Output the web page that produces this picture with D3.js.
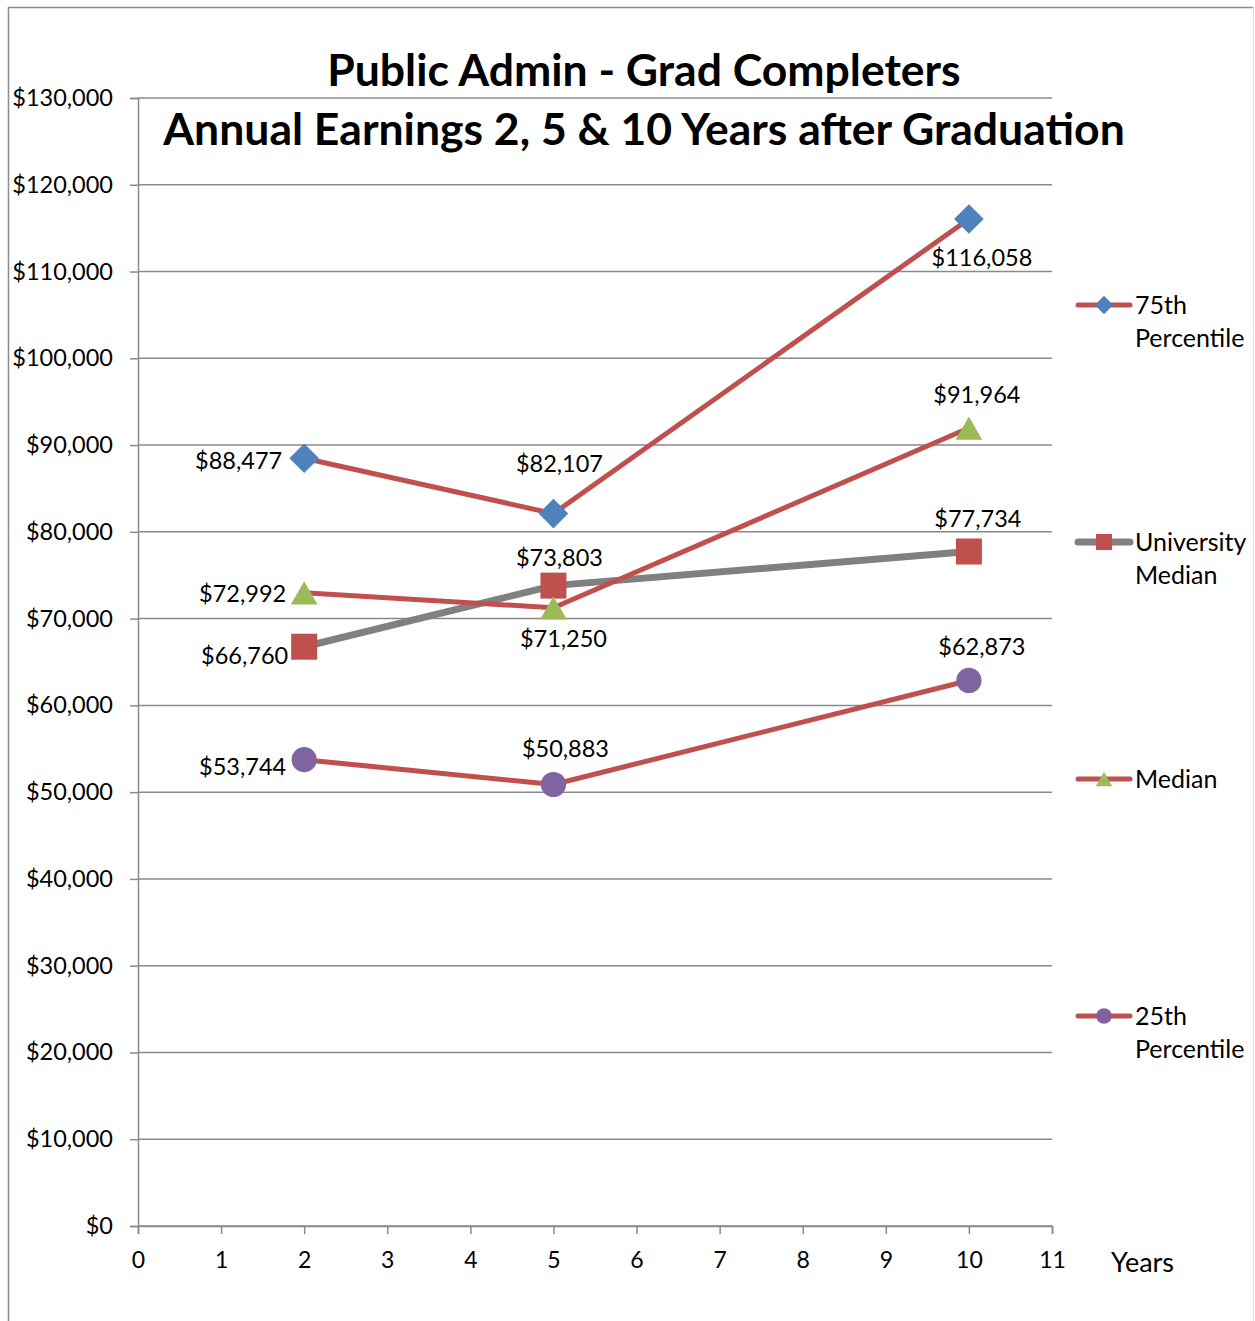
<!DOCTYPE html>
<html lang="en">
<head>
<meta charset="UTF-8">
<script src="https://d3js.org/d3.v7.min.js"></script>
<title>Public Admin - Grad Completers</title>
<style>
    body { margin: 0; background: #fff; }
    text { font-family: Lato, "Open Sans", sans-serif; fill: #000; }
</style>
</head>
<body>
<div id="chart"></div>
<script>
    // data
    var years = [2, 5, 10];
    var seriesNames = ["75th Percentile", "University Median", "Median", "25th Percentile"];
    var pct75 = [88477, 82107, 116058];
    var uniMedian = [66760, 73803, 77734];
    var median = [72992, 71250, 91964];
    var pct25 = [53744, 50883, 62873];
    var yTicks = d3.range(0, 130001, 10000);
    var xTicks = d3.range(0, 12);

    // label placement: anchor and offset (dx, dy of text centre) from its point
    var labelPos = {
        "75th Percentile": [["end", -22, 3], ["middle", 6, -50], ["middle", 13, 39]],
        "University Median": [["end", -16, 9], ["middle", 6, -28], ["middle", 9, -33]],
        "Median": [["end", -18, 1], ["middle", 10, 31], ["middle", 8, -33]],
        "25th Percentile": [["end", -18, 7], ["middle", 12, -35], ["middle", 13, -33]]
    };

    var W = 1255, H = 1321;
    var margin = {top: 98, left: 138, right: 203, bottom: 95};

    var svg = d3.select("#chart").append("svg")
        .attr("width", W).attr("height", H);

    // outer frame
    svg.append("line").attr("x1", 8.5).attr("x2", 8.5).attr("y1", 7).attr("y2", H)
        .attr("stroke", "#8c8c8c").attr("stroke-width", 1.5);
    svg.append("line").attr("x1", 8).attr("x2", 1253).attr("y1", 7.5).attr("y2", 7.5)
        .attr("stroke", "#8c8c8c").attr("stroke-width", 1.5);
    svg.append("line").attr("x1", 1253.5).attr("x2", 1253.5).attr("y1", 7).attr("y2", H)
        .attr("stroke", "#dddddd").attr("stroke-width", 1);

    var x = d3.scaleLinear().domain([0, 11]).range([margin.left, W - margin.right]);
    var y = d3.scaleLinear().domain([0, 130000]).range([H - margin.bottom, margin.top]);

    var fmt = function(v) { return "$" + d3.format(",")(v); };

    // gridlines
    svg.append("g")
        .selectAll("line").data(yTicks).enter().append("line")
        .attr("x1", x(0)).attr("x2", x(11))
        .attr("y1", function(d) { return y(d); }).attr("y2", function(d) { return y(d); })
        .attr("stroke", "#8a8a8a").attr("stroke-width", 1.5);

    // Y axis
    var yAxis = svg.append("g")
        .attr("transform", "translate(" + x(0) + ",0)")
        .call(d3.axisLeft(y).tickValues(yTicks).tickSize(8).tickPadding(17).tickFormat(fmt));
    yAxis.select(".domain").attr("stroke", "#8a8a8a").attr("stroke-width", 1.5);
    yAxis.selectAll(".tick line").attr("stroke", "#8a8a8a").attr("stroke-width", 1.5);
    yAxis.selectAll(".tick text").style("font-size", "23.5px").attr("fill", "#000");

    // X axis
    var xAxis = svg.append("g")
        .attr("transform", "translate(0," + y(0) + ")")
        .call(d3.axisBottom(x).tickValues(xTicks).tickSize(8).tickPadding(18).tickSizeOuter(8).tickFormat(d3.format("d")));
    xAxis.select(".domain").attr("stroke", "#8a8a8a").attr("stroke-width", 1.5);
    xAxis.selectAll(".tick line").attr("stroke", "#8a8a8a").attr("stroke-width", 1.5);
    xAxis.selectAll(".tick text").style("font-size", "23px").attr("fill", "#000");

    svg.append("text").attr("x", 1111).attr("y", 1272)
        .style("font-size", "27px").text("Years");

    // title
    svg.append("text").attr("x", 644).attr("y", 86).attr("text-anchor", "middle")
        .style("font-size", "44.5px").style("font-weight", "bold")
        .text("Public Admin - Grad Completers");
    svg.append("text").attr("x", 644).attr("y", 145).attr("text-anchor", "middle")
        .style("font-size", "44.5px").style("font-weight", "bold")
        .text("Annual Earnings 2, 5 & 10 Years after Graduation");

    var series = [
        {name: seriesNames[0], values: pct75, line: "#C0504D", lw: 5, marker: "diamond", color: "#4F81BD", legend: ["75th", "Percentile"], ly: 305},
        {name: seriesNames[1], values: uniMedian, line: "#808080", lw: 7, marker: "square", color: "#C0504D", legend: ["University", "Median"], ly: 542},
        {name: seriesNames[2], values: median, line: "#C0504D", lw: 5, marker: "triangle", color: "#9BBB59", legend: ["Median"], ly: 779},
        {name: seriesNames[3], values: pct25, line: "#C0504D", lw: 5, marker: "circle", color: "#8064A2", legend: ["25th", "Percentile"], ly: 1016}
    ];

    function markerPath(type, big) {
        var s = big ? 1 : 0.62;
        if (type === "diamond") return d3.symbol().type(d3.symbolDiamond2).size(560 * s * s)();
        if (type === "square") return d3.symbol().type(d3.symbolSquare).size(676 * s * s)();
        if (type === "triangle") return d3.symbol().type(d3.symbolTriangle).size(310 * s * s)();
        return d3.symbol().type(d3.symbolCircle).size(500 * s * s)();
    }
    // triangles are centred on their bounding box, not their centroid
    function markerShift(type, big) {
        return type === "triangle" ? (big ? 4 : 2.5) : 0;
    }

    var line = d3.line()
        .x(function(d) { return x(d[0]); })
        .y(function(d) { return y(d[1]); });

    series.forEach(function(s) {
        var pts = years.map(function(yr, i) { return [yr, s.values[i]]; });
        var g = svg.append("g");
        g.append("path").datum(pts)
            .attr("fill", "none").attr("stroke", s.line).attr("stroke-width", s.lw)
            .attr("stroke-linejoin", "round")
            .attr("d", line);
        g.selectAll("path.m").data(pts).enter().append("path")
            .attr("class", "m")
            .attr("transform", function(d) {
                return "translate(" + x(d[0]) + "," + (y(d[1]) + markerShift(s.marker, true)) + ")";
            })
            .attr("d", markerPath(s.marker, true))
            .attr("fill", s.color);
    });

    // data labels (drawn after all series)
    series.forEach(function(s) {
        years.forEach(function(yr, i) {
            var p = labelPos[s.name][i];
            svg.append("text")
                .attr("x", x(yr) + p[1])
                .attr("y", y(s.values[i]) + p[2] + 8)
                .attr("text-anchor", p[0])
                .style("font-size", "23.5px")
                .text(fmt(s.values[i]));
        });
    });

    // legend
    series.forEach(function(s) {
        var g = svg.append("g").attr("transform", "translate(0," + s.ly + ")");
        g.append("line").attr("x1", 1078).attr("x2", 1130)
            .attr("stroke", s.line).attr("stroke-width", s.lw).attr("stroke-linecap", "round");
        g.append("path").attr("transform", "translate(1104," + markerShift(s.marker, false) + ")")
            .attr("d", markerPath(s.marker, false)).attr("fill", s.color);
        s.legend.forEach(function(l, k) {
            g.append("text").attr("x", 1135).attr("y", 9 + k * 33)
                .style("font-size", "25px").text(l);
        });
    });
</script>
</body>
</html>
